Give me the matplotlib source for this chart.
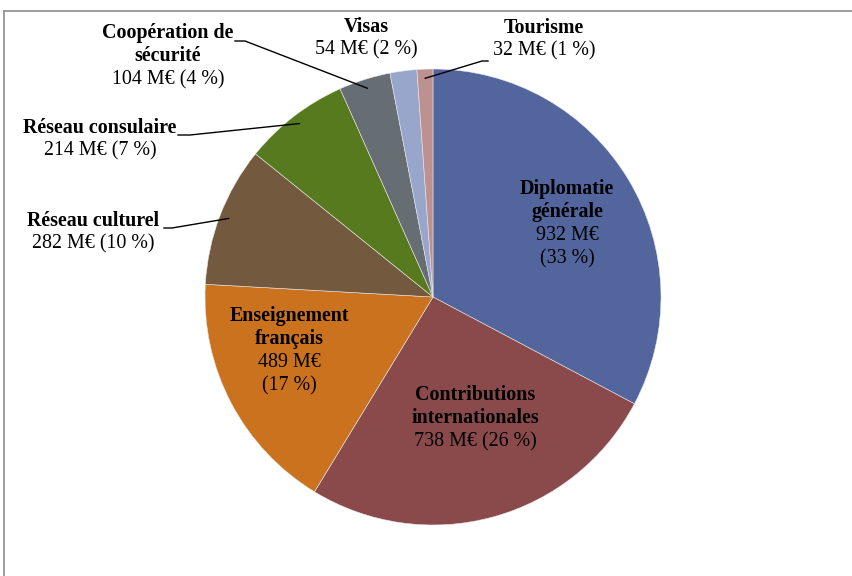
import matplotlib
matplotlib.use("Agg")
import matplotlib.pyplot as plt
from matplotlib.lines import Line2D
import numpy as np

categories = ["Diplomatie\ngénérale", "Contributions\ninternationales", "Enseignement\nfrançais",
              "Réseau culturel", "Réseau consulaire", "Coopération de\nsécurité", "Visas", "Tourisme"]
values = [932, 738, 489, 282, 214, 104, 54, 32]
value_labels = ["932 M€\n(33 %)", "738 M€ (26 %)", "489 M€\n(17 %)", "282 M€ (10 %)",
                "214 M€ (7 %)", "104 M€ (4 %)", "54 M€ (2 %)", "32 M€ (1 %)"]
colors = ["#52659C", "#8A494A", "#CB721E", "#735A3E", "#567A1D", "#666E73", "#98A6CB", "#BC918F"]

W, H = 853, 576
plt.rcParams['font.family'] = ['Liberation Serif', 'DejaVu Serif']
fig = plt.figure(figsize=(W / 100, H / 100), dpi=100)
ax = fig.add_axes([0, 0, 1, 1])

cx, cy, R = 433, H - 297, 228
wedges, _ = ax.pie(values, colors=colors, startangle=90, counterclock=False,
                   center=(cx, cy), radius=R, frame=True,
                   wedgeprops=dict(edgecolor='#E8E8E8', linewidth=0.4))
ax.set_xlim(0, W)
ax.set_ylim(0, H)
ax.set_aspect('equal')
ax.axis('off')

fs = 14.4
line_h = 23.3
layout = {
    0: dict(x=567, y=189, leader=None),
    1: dict(x=475, y=395, leader=None),
    2: dict(x=289, y=316, leader=None),
    3: dict(x=93, y=221, leader=(164, 172, 228)),
    4: dict(x=100, y=128, leader=(178, 190, 135)),
    5: dict(x=168, y=33, leader=(235, 245, 41)),
    6: dict(x=366, y=27, leader=None),
    7: dict(x=544, y=28, leader=(488, 482, 61)),
}

for i, w in enumerate(wedges):
    L = layout[i]
    name_lines = categories[i].split("\n")
    val_lines = value_labels[i].split("\n")
    y = L['y']
    for t in name_lines:
        ax.text(L['x'], H - y, t, ha='center', va='center', fontsize=fs, fontweight='bold', color='black')
        y += line_h
    for t in val_lines:
        ax.text(L['x'], H - y, t, ha='center', va='center', fontsize=fs, color='black')
        y += line_h
    if L['leader'] is not None:
        x0, x1, yl = L['leader']
        ang = np.deg2rad((w.theta1 + w.theta2) / 2)
        r_end = 0.96 * R
        ex, ey = cx + r_end * np.cos(ang), cy + r_end * np.sin(ang)
        ax.plot([x0, x1, ex], [H - yl, H - yl, ey], color='black', lw=1.0)

fig.add_artist(Line2D([4 / W, 1], [1 - 11 / H, 1 - 11 / H], transform=fig.transFigure, color='#8C8C8C', lw=1.2))
fig.add_artist(Line2D([4 / W, 4 / W], [0, 1 - 11 / H], transform=fig.transFigure, color='#8C8C8C', lw=1.2))

fig.savefig("out.png", dpi=100)
